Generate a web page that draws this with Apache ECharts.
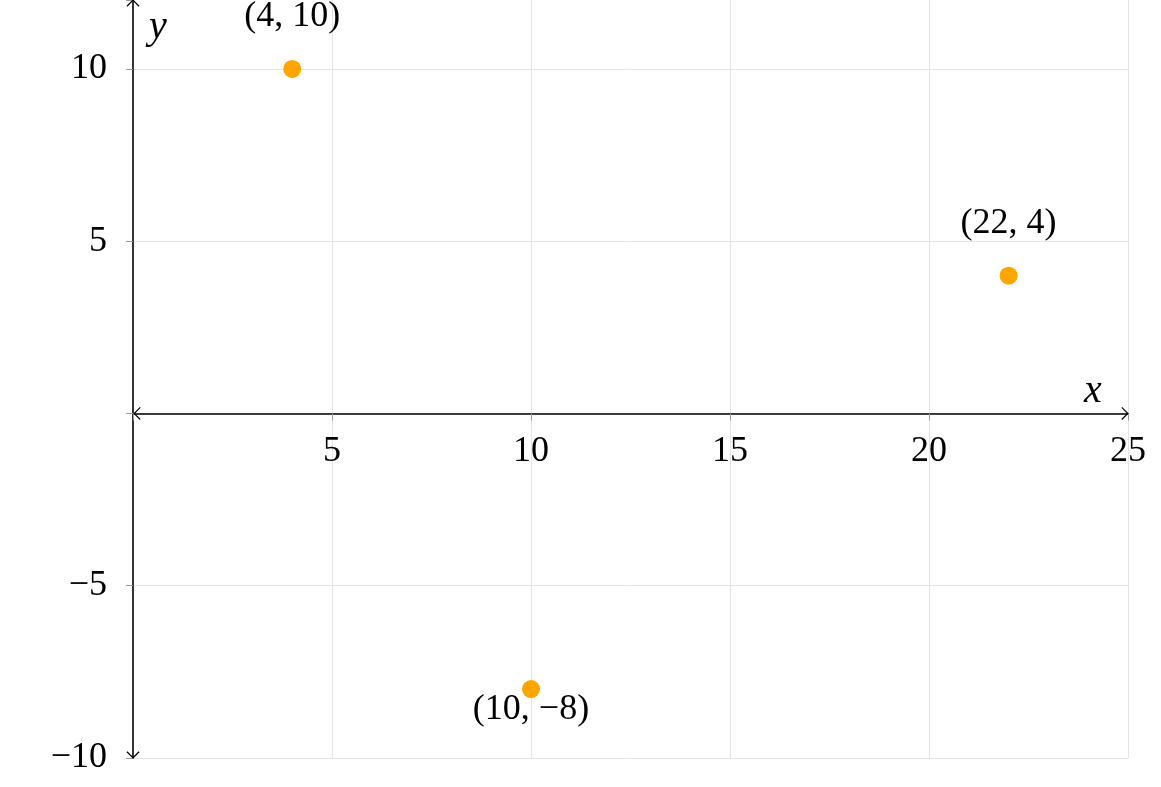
<!DOCTYPE html>
<html>
<head>
<meta charset="utf-8">
<script src="https://cdn.jsdelivr.net/npm/echarts@6/dist/echarts.min.js"></script>
<style>html,body{margin:0;padding:0;background:#fff}#c{width:1161px;height:787px}</style>
</head>
<body>
<div id="c"></div>
<script>
const pointX = [4, 22, 10];
const pointY = [10, 4, -8];
const pointLabels = ['(4, 10)', '(22, 4)', '(10, \u22128)'];
const labelSide = ['top', 'top', 'bottom'];
const xTicks = [5, 10, 15, 20, 25];
const yTicks = [-10, -5, 5, 10];
const xRange = [0, 25];
const yRange = [-10, 12];

const font = '"Liberation Serif", "DejaVu Serif", serif';
const arrowPath = 'path://M10,0 L20,10 L18.6,11.2 L10,2.6 L1.4,11.2 L0,10 Z';
const chart = echarts.init(document.getElementById('c'), null, {renderer: 'canvas'});

const gridTop = 0, gridBottom = 29, H = 787;
const plotH = H - gridTop - gridBottom;
const zeroOffset = -plotH * (0 - yRange[0]) / (yRange[1] - yRange[0]);

const data = pointX.map((x, i) => ({
  value: [x, pointY[i]],
  label: labelSide[i] === 'top'
    ? {position: 'top', distance: 25}
    : {position: 'bottom', distance: -7}
}));

chart.setOption({
  animation: false,
  grid: {left: 133, right: 33, top: gridTop, bottom: gridBottom, containLabel: false, outerBoundsMode: 'none'},
  xAxis: {
    type: 'value', min: xRange[0], max: xRange[1], interval: 5,
    offset: zeroOffset,
    name: 'x', nameLocation: 'end', nameGap: -44,
    nameTextStyle: {fontFamily: font, fontStyle: 'italic', fontSize: 40, color: '#000', align: 'left', verticalAlign: 'bottom', padding: [0, 0, 2, 0]},
    axisLine: {onZero: false, lineStyle: {color: '#000', width: 1.6}, symbol: [arrowPath, arrowPath], symbolSize: [13, 8], symbolOffset: [4, -3]},
    axisTick: {show: true, length: 7, lineStyle: {color: '#999'}},
    axisLabel: {fontFamily: font, fontSize: 36, color: '#000', margin: 20,
      formatter: v => xTicks.includes(v) ? String(v) : ''},
    splitLine: {show: true, showMinLine: false, lineStyle: {color: '#e4e4e4', width: 1}}
  },
  yAxis: {
    type: 'value', min: yRange[0], max: yRange[1], interval: 5,
    name: 'y', nameLocation: 'end', nameGap: -47,
    nameTextStyle: {fontFamily: font, fontStyle: 'italic', fontSize: 40, color: '#000', align: 'left', verticalAlign: 'bottom', padding: [0, 0, 0, 16]},
    axisLine: {onZero: false, lineStyle: {color: '#000', width: 1.6}, symbol: [arrowPath, arrowPath], symbolSize: [13, 8], symbolOffset: [3, -3]},
    axisTick: {show: true, length: 7, lineStyle: {color: '#999'}},
    axisLabel: {fontFamily: font, fontSize: 36, color: '#000', margin: 26,
      formatter: v => yTicks.includes(v) ? (v < 0 ? '\u2212' + Math.abs(v) : String(v)) : ''},
    splitLine: {show: true, showMaxLine: false, lineStyle: {color: '#e4e4e4', width: 1}}
  },
  series: [{
    type: 'scatter',
    symbol: 'circle',
    symbolSize: 18,
    itemStyle: {color: '#FFA500', opacity: 1},
    emphasis: {disabled: true},
    data: data,
    label: {
      show: true,
      fontFamily: font, fontSize: 36, color: '#000', opacity: 1,
      formatter: p => pointLabels[p.dataIndex]
    }
  }]
});
</script>
</body>
</html>
